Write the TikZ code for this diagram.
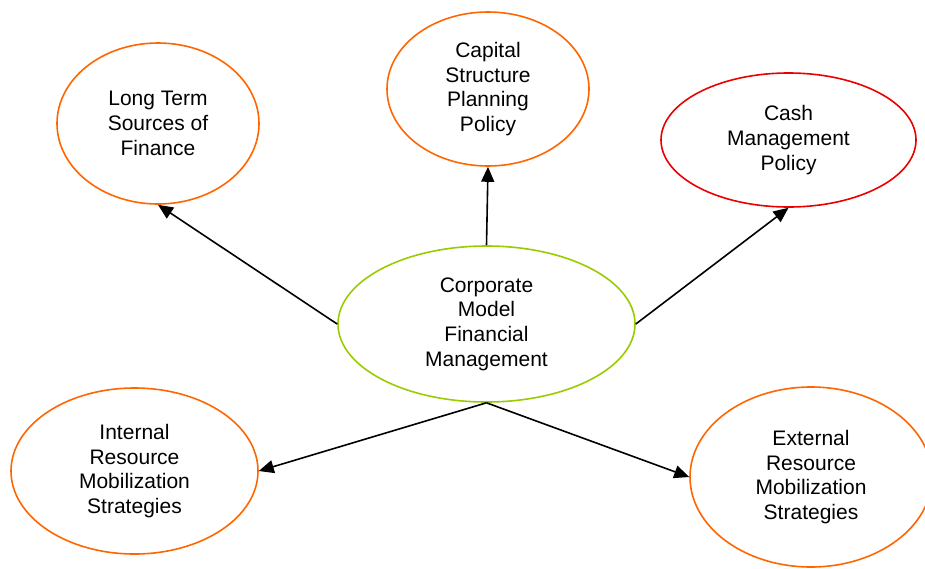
\documentclass[tikz,border=0pt]{standalone}
\usepackage{fontspec}
\setmainfont{Liberation Sans}
\usetikzlibrary{shapes.geometric, arrows.meta, positioning}

\definecolor{orangeline}{RGB}{255,102,0}
\definecolor{redline}{RGB}{235,0,0}
\definecolor{greenline}{RGB}{153,204,0}

\begin{document}
\begin{tikzpicture}[x=1pt, y=-1pt,
        bubble/.style={ellipse, draw=#1, line width=1.6pt, inner sep=0pt, align=center,
            font=\fontsize{21}{24.7}\selectfont},
        link/.style={-{Triangle[length=15pt,width=13pt]}, line width=1.6pt}]
        \useasboundingbox (0,0) rectangle (925,568);

        \node[bubble=greenline, minimum width=297pt, minimum height=156pt] (model) at (486.5,324) {Corporate\\Model\\Financial\\Management};

        \node[bubble=orangeline, minimum width=202pt, minimum height=161pt] (longterm) at (158,123.5) {Long Term\\Sources of\\Finance};
        \node[bubble=orangeline, minimum width=202pt, minimum height=154pt] (capital) at (488,89) {Capital\\Structure\\Planning\\Policy};
        \node[bubble=redline, minimum width=255pt, minimum height=134pt] (cash) at (788.5,140) {Cash\\Management\\Policy};

        \node[bubble=orangeline, minimum width=247pt, minimum height=166pt] (internal) at (134.5,471) {Internal\\Resource\\Mobilization\\Strategies};
        \node[bubble=orangeline, minimum width=242pt, minimum height=180pt] (external) at (811,477) {External\\Resource\\Mobilization\\Strategies};

        \draw[link] (model.west) -- (longterm.south);
        \draw[link] (model.north) -- (capital.south);
        \draw[link] (model.east) -- (cash.south);
        \draw[link] (model.south) -- (internal.east);
        \draw[link] (model.south) -- (external.west);
    \end{tikzpicture}
\end{document}
